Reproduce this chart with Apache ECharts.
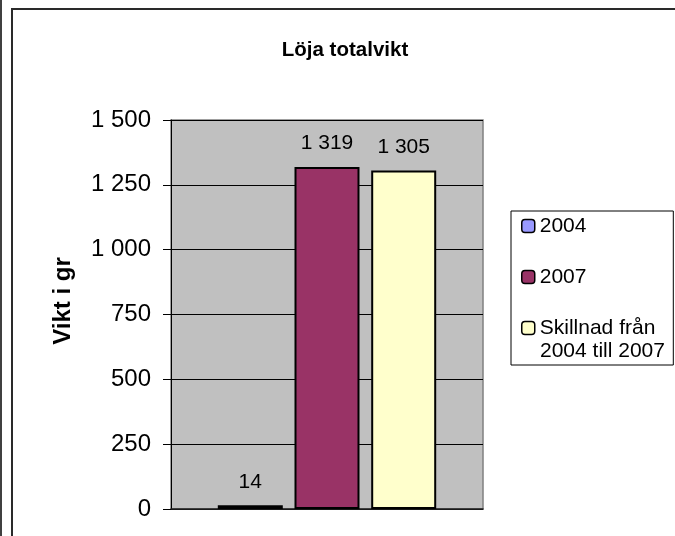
<!DOCTYPE html>
<html><head><meta charset="utf-8">
<script src="https://cdn.jsdelivr.net/npm/echarts@6/dist/echarts.min.js"></script>
<style>html,body{margin:0;padding:0;background:#fff}#c{width:675px;height:536px}</style>
</head><body><div id="c"></div>
<script>
const categories = [''];
const seriesNames = ['2004', '2007', 'Skillnad från\n2004 till 2007'];
const values2004 = [14];
const values2007 = [1319];
const valuesDiff = [1305];
const seriesColors = ['#9999FF', '#993366', '#FFFFCC'];
const titleText = 'Löja totalvikt';
const yAxisTitle = 'Vikt i gr';

const FONT = 'Liberation Sans, Arial, sans-serif';
const fmt = v => String(v).replace(/\B(?=(\d{3})+(?!\d))/g, ' ');

const seriesData = [values2004, values2007, valuesDiff];
const lastNameLines = seriesNames[2].split('\n');
const chart = echarts.init(document.getElementById('c'), null, {renderer: 'canvas'});
chart.setOption({
  animation: false,
  backgroundColor: '#fff',
  title: {
    text: titleText, left: 345, top: 40, textAlign: 'center', padding: 0,
    textStyle: {fontFamily: FONT, fontSize: 20.5, fontWeight: 'bold', color: '#000'}
  },
  grid: {
    left: 171, right: 192, top: 120, bottom: 27, show: true,
    backgroundColor: '#C0C0C0', borderColor: '#808080', borderWidth: 1.5
  },
  legend: {
    orient: 'vertical', left: 511, top: 211,
    padding: [3, 18, 25, 10],
    itemWidth: 13, itemHeight: 13, itemGap: 27,
    borderColor: '#000', borderWidth: 1, backgroundColor: '#fff',
    textStyle: {fontFamily: FONT, fontSize: 21, color: '#000', lineHeight: 24},
    formatter: name => name.split('\n')[0],
    data: seriesNames,
    itemStyle: {borderColor: '#000', borderWidth: 1.5}
  },
  xAxis: {
    type: 'category', data: categories,
    axisLine: {show: true, lineStyle: {color: '#222', width: 1.5}},
    axisTick: {show: false}, axisLabel: {show: false}, splitLine: {show: false}
  },
  yAxis: {
    type: 'value', min: 0, max: 1500, interval: 250,
    axisLine: {show: true, lineStyle: {color: '#000', width: 1}},
    axisTick: {show: true, length: 8, lineStyle: {color: '#000'}},
    axisLabel: {margin: 20, fontFamily: FONT, fontSize: 24, color: '#000', formatter: fmt},
    splitLine: {show: true, lineStyle: {color: '#000', width: 1}}
  },
  graphic: [
    {type: 'line', shape: {x1: 1, y1: 0, x2: 1, y2: 536}, style: {stroke: '#000', lineWidth: 1.5}, silent: true},
    {type: 'polyline', shape: {points: [[12, 536], [12, 9], [675, 9]]}, style: {stroke: '#2a2a2a', lineWidth: 2, fill: null}, silent: true},
    {type: 'text', x: 63, y: 301, rotation: Math.PI / 2, silent: true,
     style: {text: yAxisTitle, fontFamily: FONT, fontSize: 24, fontWeight: 'bold', fill: '#000', align: 'center', verticalAlign: 'middle'}},
    {type: 'text', x: 540, y: 351, silent: true, z: 100,
     style: {text: lastNameLines[1], fontFamily: FONT, fontSize: 21, fill: '#000', align: 'left', verticalAlign: 'middle'}}
  ],
  series: seriesNames.map((n, i) => ({
    name: n, type: 'bar', data: seriesData[i],
    barWidth: 65, barGap: '18%',
    itemStyle: {color: seriesColors[i], borderColor: '#000', borderWidth: 2},
    label: {show: true, position: 'top', distance: 13, formatter: p => fmt(p.value),
      fontFamily: FONT, fontSize: 21, color: '#000'}
  }))
});
</script></body></html>
